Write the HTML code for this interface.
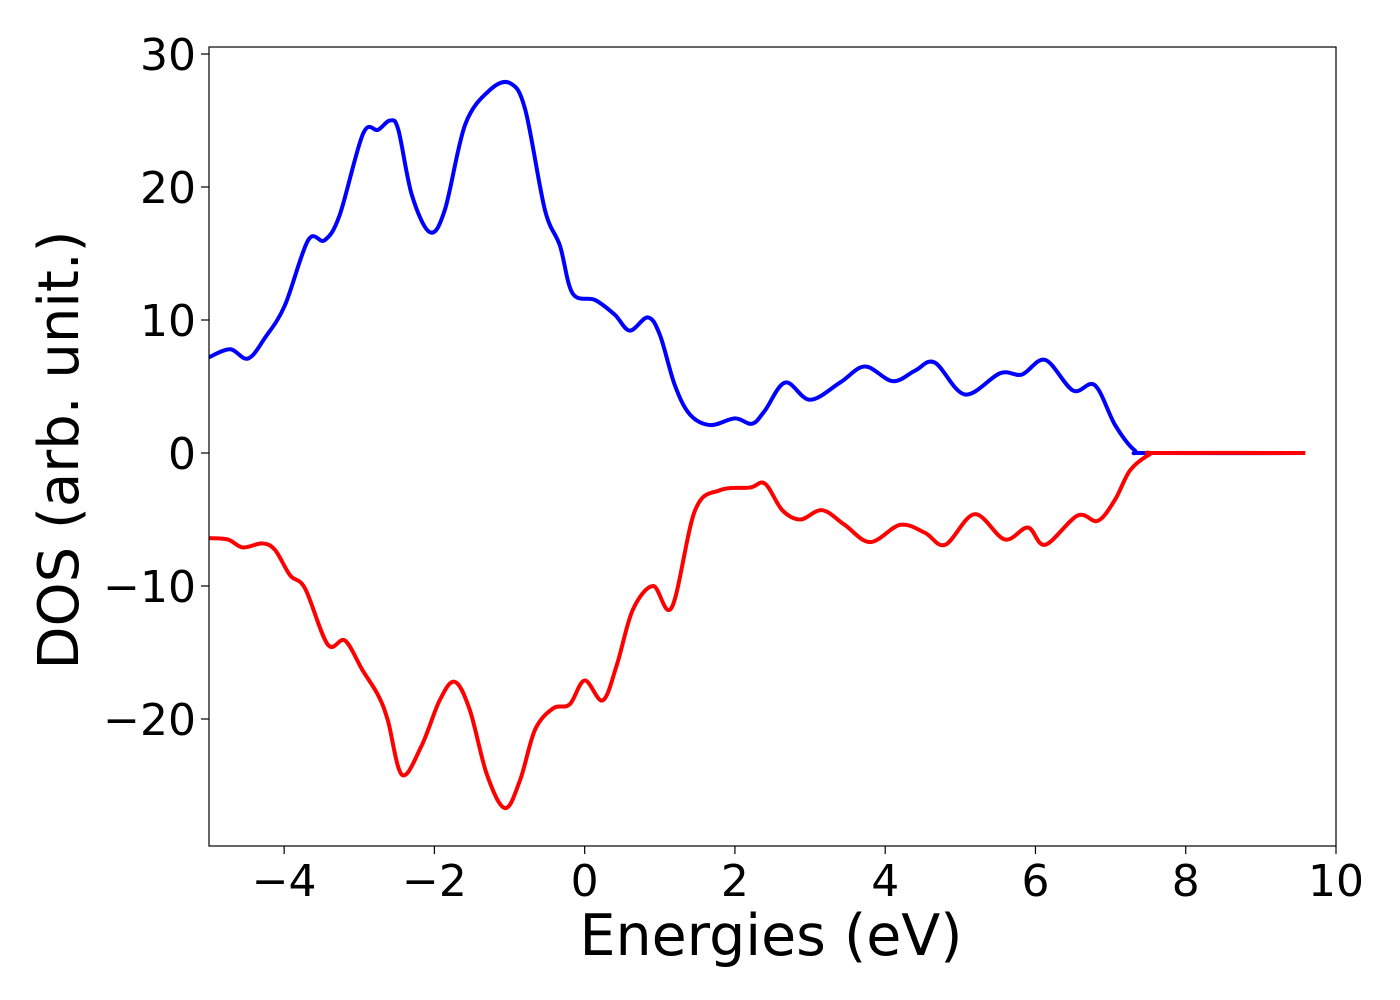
<!DOCTYPE html>
<html><head><meta charset="utf-8"><style>
html,body{margin:0;padding:0;background:#fff;}
svg{display:block;font-family:"DejaVu Sans","Liberation Sans",sans-serif;}
</style></head><body>
<svg id="chart" width="1400" height="1000"></svg>
<script>
const upEnergies=[-5,-4.72,-4.48,-4.25,-3.99,-3.68,-3.46,-3.26,-2.95,-2.75,-2.59,-2.48,-2.30,-2.06,-1.86,-1.59,-1.26,-0.99,-0.79,-0.53,-0.33,-0.16,0.14,0.40,0.60,0.84,1.0,1.2,1.4,1.67,2.0,2.23,2.4,2.67,3.0,3.40,3.73,4.10,4.4,4.66,5.06,5.53,5.82,6.13,6.5,6.79,7.06,7.32,7.52,9.59];
const upDos=[7.2,7.8,7.1,8.7,11.1,16.0,16.0,17.9,24.0,24.3,25.0,24.3,19.4,16.6,18.3,24.7,27.3,27.8,25.8,18.3,15.6,12.0,11.5,10.4,9.2,10.2,8.9,5.1,2.9,2.1,2.6,2.2,3.2,5.3,4.0,5.3,6.5,5.4,6.2,6.8,4.4,6.0,5.9,7.0,4.7,5.1,2.1,0.2,0,0];
const downEnergies=[-5,-4.75,-4.55,-4.29,-4.12,-3.92,-3.72,-3.42,-3.19,-2.96,-2.75,-2.62,-2.43,-2.17,-1.93,-1.73,-1.53,-1.30,-1.06,-0.86,-0.66,-0.42,-0.20,0.0,0.24,0.43,0.64,0.91,1.16,1.47,1.80,2.2,2.4,2.63,2.87,3.16,3.46,3.80,4.20,4.53,4.80,5.19,5.59,5.90,6.13,6.56,6.83,7.06,7.26,7.52,7.66,9.59];
const downDos=[-6.4,-6.5,-7.1,-6.8,-7.3,-9.2,-10.2,-14.4,-14.1,-16.3,-18.2,-20.1,-24.2,-22.0,-18.6,-17.2,-19.3,-24.2,-26.7,-24.6,-20.8,-19.2,-18.9,-17.1,-18.6,-15.9,-11.8,-10.0,-11.6,-4.3,-2.8,-2.6,-2.3,-4.3,-5.0,-4.3,-5.4,-6.7,-5.4,-6.0,-6.9,-4.6,-6.5,-5.6,-6.9,-4.7,-5.1,-3.5,-1.3,-0.1,0,0];
const xTicks=[-4,-2,0,2,4,6,8,10];
const xTickLabels=["\u22124","\u22122","0","2","4","6","8","10"];
const yTicks=[-20,-10,0,10,20,30];
const yTickLabels=["\u221220","\u221210","0","10","20","30"];
const L=209,R=1336,T=47,B=846;
const xMin=-5,xMax=10,yZeroPx=453,yPer=13.3;
function sx(v){return L+(v-xMin)*(R-L)/(xMax-xMin);}
function sy(v){return yZeroPx-v*yPer;}
const NS="http://www.w3.org/2000/svg";
const svg=document.getElementById('chart');
function mk(tag,attrs){const e=document.createElementNS(NS,tag);for(const k in attrs)e.setAttribute(k,attrs[k]);return e;}
function smooth(xs,ys){
  const p=xs.map((x,i)=>[sx(x),sy(ys[i])]);
  let d="M"+p[0][0]+","+p[0][1];
  for(let i=0;i<p.length-1;i++){
    const p0=p[i-1]||p[i],p1=p[i],p2=p[i+1],p3=p[i+2]||p[i+1];
    const c1=[p1[0]+(p2[0]-p0[0])/6,p1[1]+(p2[1]-p0[1])/6];
    const c2=[p2[0]-(p3[0]-p1[0])/6,p2[1]-(p3[1]-p1[1])/6];
    d+=" C"+c1[0]+","+c1[1]+" "+c2[0]+","+c2[1]+" "+p2[0]+","+p2[1];
  }
  return d;
}
const clip=mk('clipPath',{id:'pc'});clip.appendChild(mk('rect',{x:L,y:T,width:R-L,height:B-T}));svg.appendChild(clip);
const up=mk('path',{d:smooth(upEnergies,upDos),fill:'none',stroke:'#0000ff','stroke-width':4,'clip-path':'url(#pc)'});


svg.appendChild(up);
const dn=mk('path',{d:smooth(downEnergies,downDos),fill:'none',stroke:'#ff0000','stroke-width':4,'clip-path':'url(#pc)'});


svg.appendChild(dn);
const frame=mk('rect',{x:L,y:T,width:R-L,height:B-T,fill:'none',stroke:'#000','stroke-width':1.2});


svg.appendChild(frame);
xTicks.forEach((t,i)=>{
  const x=sx(t);
  const tk=mk('line',{x1:x,x2:x,y1:B,y2:B+8,stroke:'#000','stroke-width':1.2});
  
  
  svg.appendChild(tk);
  const tx=mk('text',{x:x,y:B+50,'text-anchor':'middle','font-size':44,fill:'#000'});
  tx.textContent=xTickLabels[i];
  
  
  svg.appendChild(tx);
});
yTicks.forEach((t,i)=>{
  const y=sy(t);
  const tk=mk('line',{x1:L-8,x2:L,y1:y,y2:y,stroke:'#000','stroke-width':1.2});
  
  
  svg.appendChild(tk);
  const tx=mk('text',{x:L-13,y:y+16,'text-anchor':'end','font-size':44,fill:'#000'});
  tx.textContent=yTickLabels[i];
  
  
  svg.appendChild(tx);
});
const xl=mk('text',{x:771,y:955,'text-anchor':'middle','font-size':57,fill:'#000'});
xl.textContent="Energies (eV)";


svg.appendChild(xl);
const yl=mk('text',{x:0,y:0,'text-anchor':'middle','font-size':56,fill:'#000',transform:'translate(78,450) rotate(-90)'});
yl.textContent="DOS (arb. unit.)";


svg.appendChild(yl);
</script>
</body></html>
